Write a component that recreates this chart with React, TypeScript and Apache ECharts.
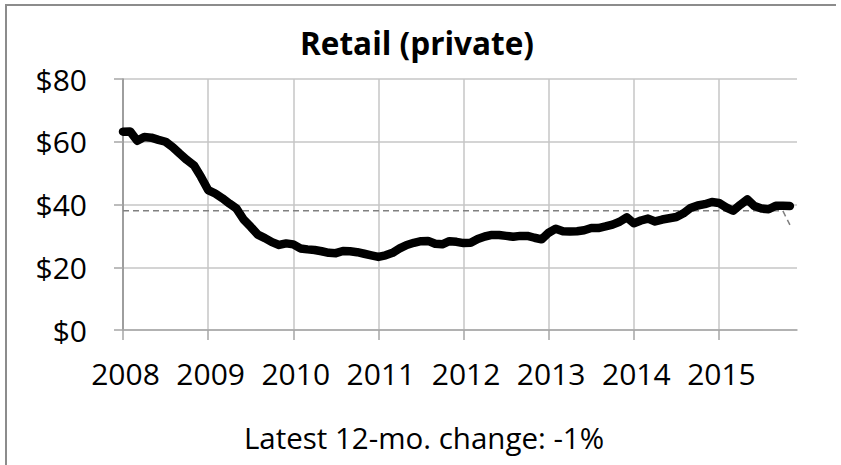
import React, { useEffect, useRef } from "react";
import * as echarts from "echarts";

// Monthly categories Jan 2008 .. Dec 2015
const years = [2008, 2009, 2010, 2011, 2012, 2013, 2014, 2015];
const monthsPerYear = 12;
const categories: string[] = [];
years.forEach((y) => {
  for (let m = 1; m <= monthsPerYear; m++) categories.push(`${y}-${String(m).padStart(2, "0")}`);
});

// Retail (private) values, Jan 2008 .. Nov 2015 ($)
const retailValues: number[] = [
  63.2, 63.3, 60.3, 61.5, 61.3, 60.6, 60.0, 58.3, 56.2, 54.2, 52.5, 48.8,
  44.6, 43.5, 42.0, 40.3, 38.7, 35.2, 32.9, 30.4, 29.3, 28.0, 27.1, 27.6,
  27.3, 26.0, 25.7, 25.5, 25.1, 24.6, 24.5, 25.2, 25.1, 24.8, 24.3, 23.8,
  23.3, 23.8, 24.6, 26.0, 27.1, 27.8, 28.3, 28.4, 27.5, 27.3, 28.3, 28.1,
  27.7, 27.8, 29.0, 29.8, 30.3, 30.3, 30.0, 29.7, 30.0, 30.0, 29.4, 28.9,
  31.0, 32.3, 31.5, 31.4, 31.5, 31.8, 32.5, 32.5, 33.0, 33.6, 34.5, 35.9,
  34.0, 34.9, 35.5, 34.6, 35.2, 35.6, 36.0, 37.2, 38.9, 39.7, 40.1, 40.8,
  40.5, 39.1, 38.0, 39.9, 41.6, 39.5, 38.7, 38.5, 39.6, 39.6, 39.5,
];

// Dashed reference line (long-run level), with its last point
const referenceLevel = 38;
const referenceLast = 33.5;
const referenceValues: (number | null)[] = categories.map((_, i) =>
  i < retailValues.length - 1 ? referenceLevel : i === retailValues.length - 1 ? referenceLast : null
);

const titleText = "Retail (private)";
const footerText = "Latest 12-mo. change: -1%";
const yTicks = { min: 0, max: 80, interval: 20 };

const FONT = "'Open Sans', 'Noto Sans', sans-serif";

export default function App() {
  const ref = useRef<HTMLDivElement>(null);
  useEffect(() => {
    if (!ref.current) return;
    const chart = echarts.init(ref.current, undefined, { renderer: "svg" });
    const isYearStart = (i: number) => i % monthsPerYear === 0;
    chart.setOption({
      animation: false,
      backgroundColor: "#ffffff",
      textStyle: { fontFamily: FONT },
      grid: { left: 123, top: 79, right: 44, bottom: 135, containLabel: false },
      graphic: [
        { type: "line", shape: { x1: 6, y1: 5, x2: 6, y2: 465 }, style: { stroke: "#8c8c8c", lineWidth: 2 } },
        { type: "line", shape: { x1: 5, y1: 5, x2: 836, y2: 5 }, style: { stroke: "#8c8c8c", lineWidth: 2 } },
        {
          type: "text",
          x: 417,
          y: 42,
          style: { text: titleText, font: `bold 31.5px ${FONT}`, fill: "#000", align: "center", verticalAlign: "middle" },
        },
        {
          type: "text",
          x: 424,
          y: 437,
          style: { text: footerText, font: `29.5px ${FONT}`, fill: "#000", align: "center", verticalAlign: "middle" },
        },
      ],
      xAxis: {
        type: "category",
        data: categories,
        boundaryGap: false,
        axisLine: { show: true, lineStyle: { color: "#a6a6a6", width: 1.5 } },
        axisTick: { show: true, interval: (i: number) => isYearStart(i), length: 10, lineStyle: { color: "#a6a6a6", width: 1.5 } },
        axisLabel: {
          interval: (i: number) => isYearStart(i),
          formatter: (v: string) => v.slice(0, 4),
          color: "#000",
          fontSize: 30,
          fontFamily: FONT,
          margin: 28,
          align: "center",
          padding: [0, 0, 0, 5],
        },
        splitLine: { show: true, interval: (i: number) => isYearStart(i), lineStyle: { color: "#c6c6c6", width: 1.5 } },
      },
      yAxis: {
        type: "value",
        min: yTicks.min,
        max: yTicks.max,
        interval: yTicks.interval,
        axisLine: { show: true, lineStyle: { color: "#8c8c8c", width: 1.5 } },
        axisTick: { show: true, length: 9, lineStyle: { color: "#a6a6a6", width: 1.5 } },
        axisLabel: { formatter: (v: number) => `$${v}`, color: "#000", fontSize: 30, fontFamily: FONT, margin: 36 },
        splitLine: { show: true, lineStyle: { color: "#c6c6c6", width: 1.5 } },
      },
      series: [
        {
          type: "line",
          data: referenceValues,
          symbol: "none",
          lineStyle: { color: "#808080", width: 1.5, type: [6, 4] },
          z: 2,
        },
        {
          type: "line",
          data: retailValues,
          symbol: "none",
          lineStyle: { color: "#000", width: 8.5, cap: "round", join: "round" },
          z: 3,
        },
      ],
    });
    return () => chart.dispose();
  }, []);
  return (
    <div
      ref={ref}
      style={{ position: "absolute", left: 0, top: 0, width: 841, height: 465, background: "#fff" }}
    />
  );
}
